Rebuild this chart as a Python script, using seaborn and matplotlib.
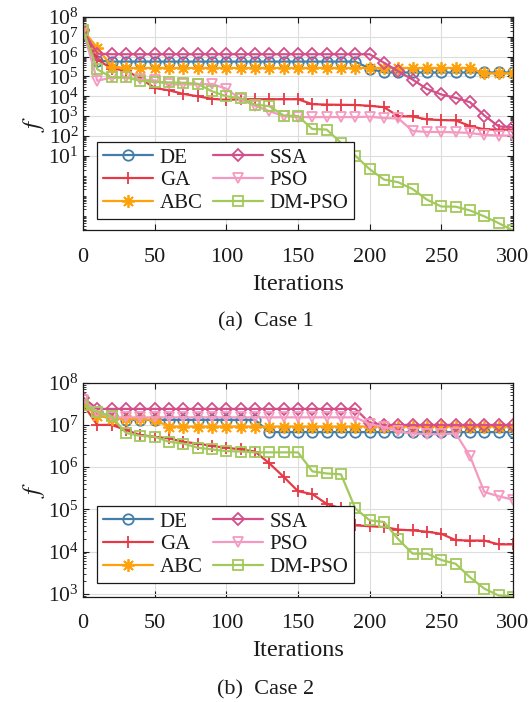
import numpy as np
import pandas as pd
import matplotlib
matplotlib.use("Agg")
import matplotlib.pyplot as plt
import seaborn as sns
from matplotlib.ticker import FixedLocator, LogLocator, NullFormatter, LogFormatterMathtext

# ---------------- data (log10 of f) ----------------
iterations = list(range(0, 301, 10))
algorithms = ["DE", "GA", "ABC", "SSA", "PSO", "DM-PSO"]

# Case 1
c1_de = [7.33, 5.8] + [5.75] * 18 + [5.4] + [5.2] * 10
c1_ga = [7.33, 5.85, 5.4, 5.3, 4.9, 4.42, 4.3, 4.12, 4.0, 3.87, 3.82, 3.85, 3.85, 3.85,
         3.85, 3.85, 3.6, 3.58, 3.57, 3.56, 3.52, 3.45, 2.99, 2.98, 2.83, 2.8, 2.78,
         2.5, 2.33, 2.32, 2.32]
c1_abc = [7.33, 6.45, 5.5] + [5.43] * 25 + [5.15] * 3
c1_ssa = [7.33, 6.15] + [6.12] * 19 + [5.69, 5.26, 4.84, 4.37, 4.09, 3.92, 3.7, 3.03, 2.48, 2.45]
c1_pso = [7.33, 4.78, 4.95, 4.95, 4.85, 4.8, 4.6, 4.6, 4.6, 4.62, 4.38, 3.85, 3.52, 3.25,
          3.0, 2.95, 2.95, 2.95, 2.95, 2.95, 2.97, 2.9, 2.88, 2.25, 2.2, 2.2, 2.18, 2.15,
          2.05, 2.02, 2.02]
c1_dmpso = [7.33, 5.36, 4.95, 4.95, 4.78, 4.72, 4.7, 4.68, 4.63, 4.25, 4.0, 3.9, 3.58,
            3.5, 3.03, 3.0, 2.35, 2.32, 1.65, 1.0, 0.32, -0.2, -0.34, -0.68, -1.22,
            -1.56, -1.57, -1.76, -2.06, -2.4, -2.77]

# Case 2
c2_de = [7.49, 7.3, 7.2] + [7.12] * 10 + [6.83] * 18
c2_ga = [7.49, 7.0, 7.0, 6.88, 6.76, 6.72, 6.68, 6.6, 6.56, 6.5, 6.46, 6.42, 6.37, 6.09,
         5.77, 5.43, 5.36, 5.13, 5.02, 4.62, 4.6, 4.58, 4.52, 4.5, 4.47, 4.42, 4.27,
         4.26, 4.26, 4.17, 4.17]
c2_abc = [7.49, 7.22, 7.15, 7.15, 7.13, 7.12] + [6.96] * 25
c2_ssa = [7.65] + [7.38] * 19 + [7.05] + [7.0] * 10
c2_pso = [7.6, 7.3] + [7.18] * 18 + [7.02, 6.95, 6.85, 6.8, 6.78, 6.78, 6.8, 6.26, 5.41, 5.31, 5.23]
c2_dmpso = [7.47, 7.31, 7.2, 6.81, 6.74, 6.72, 6.6, 6.56, 6.46, 6.42, 6.38, 6.37, 6.35,
            6.35, 6.35, 6.35, 5.9, 5.85, 5.83, 5.02, 4.74, 4.7, 4.29, 3.95, 3.95, 3.8,
            3.71, 3.39, 3.12, 2.96, 2.93]

case1_yticks = [1e1, 1e2, 1e3, 1e4, 1e5, 1e6, 1e7, 1e8]
case2_yticks = [1e3, 1e4, 1e5, 1e6, 1e7, 1e8]
xticks = [0, 50, 100, 150, 200, 250, 300]

# ---------------- style ----------------
colors = ["#427ea8", "#e63946", "#ffa10a", "#d24f8a", "#f49ac1", "#a3c95c"]
markers = ["o", "+", (8, 2, 0), "D", "v", "s"]
msizes = [7.5, 9, 9, 6.0, 7.5, 7.0]

sns.set_style("ticks")
plt.rcParams["font.family"] = ["Liberation Serif", "DejaVu Serif"]
plt.rcParams["mathtext.fontset"] = "stix"
plt.rcParams["text.color"] = "#1a1a1a"
plt.rcParams["axes.labelcolor"] = "#1a1a1a"
plt.rcParams["xtick.color"] = "#1a1a1a"
plt.rcParams["ytick.color"] = "#1a1a1a"

fig = plt.figure(figsize=(5.31, 7.02), dpi=100)
ax1 = fig.add_axes([0.1563, 0.6717, 0.8098, 0.3041])
ax2 = fig.add_axes([0.1563, 0.1500, 0.8098, 0.3048])


def make_frame(series):
    rows = []
    for name, logs in zip(algorithms, series):
        for it, lv in zip(iterations, logs):
            rows.append({"Iterations": it, "f": 10.0 ** lv, "Algorithm": name})
    return pd.DataFrame(rows)


def draw(ax, series, yticks, legend_anchor):
    df = make_frame(series)
    sns.lineplot(data=df, x="Iterations", y="f", hue="Algorithm",
                 hue_order=algorithms, palette=colors, errorbar=None,
                 linewidth=1.6, legend=False, ax=ax)
    lines = ax.lines[:len(algorithms)]
    for line, c, m, s in zip(lines, colors, markers, msizes):
        line.set_marker(m)
        line.set_markersize(s)
        line.set_markerfacecolor("none")
        line.set_markeredgecolor(c)
        line.set_markeredgewidth(1.3)
    ax.set_yscale("log")
    ax.set_xlim(0, 300)
    ymin = min(10.0 ** np.array(series[-1]))
    ax.set_ylim(ymin, 1e8)
    ax.xaxis.set_major_locator(FixedLocator(xticks))
    ax.yaxis.set_major_locator(FixedLocator(yticks))
    ax.yaxis.set_major_formatter(LogFormatterMathtext())
    ax.yaxis.set_minor_locator(LogLocator(base=10, subs=np.arange(2, 10), numticks=100))
    ax.yaxis.set_minor_formatter(NullFormatter())
    ax.tick_params(which="both", direction="in", top=True, right=True)
    ax.tick_params(which="major", length=4, width=0.8)
    ax.tick_params(which="minor", length=2, width=0.6)
    ax.tick_params(axis="x", labelsize=16, pad=12.5)
    ax.tick_params(axis="y", labelsize=15.5, pad=3)
    ax.grid(True, which="major", color="#dddddd", linewidth=0.8)
    ax.set_axisbelow(True)
    for sp in ax.spines.values():
        sp.set_color("#1a1a1a")
        sp.set_linewidth(0.9)
    ax.set_xlabel("Iterations", fontsize=17.5, labelpad=5)
    ax.set_ylabel("$f$", fontsize=18, labelpad=1)
    leg = ax.legend(lines, algorithms, ncol=2, loc="lower left",
                    bbox_to_anchor=legend_anchor, borderaxespad=0,
                    frameon=True, fancybox=False, edgecolor="#1a1a1a",
                    framealpha=1, fontsize=15, handlelength=2.4,
                    handletextpad=0.3, columnspacing=0.5, labelspacing=0.15,
                    borderpad=0.3)
    leg.get_frame().set_linewidth(0.9)


draw(ax1, [c1_de, c1_ga, c1_abc, c1_ssa, c1_pso, c1_dmpso], case1_yticks, (0.033, 0.052))
draw(ax2, [c2_de, c2_ga, c2_abc, c2_ssa, c2_pso, c2_dmpso], case2_yticks, (0.033, 0.063))

fig.text(0.5, 1 - 321.7 / 702, "(a)  Case 1", ha="center", va="center", fontsize=16)
fig.text(0.5, 1 - 690 / 702, "(b)  Case 2", ha="center", va="center", fontsize=16)

fig.savefig("out.png", dpi=100)
